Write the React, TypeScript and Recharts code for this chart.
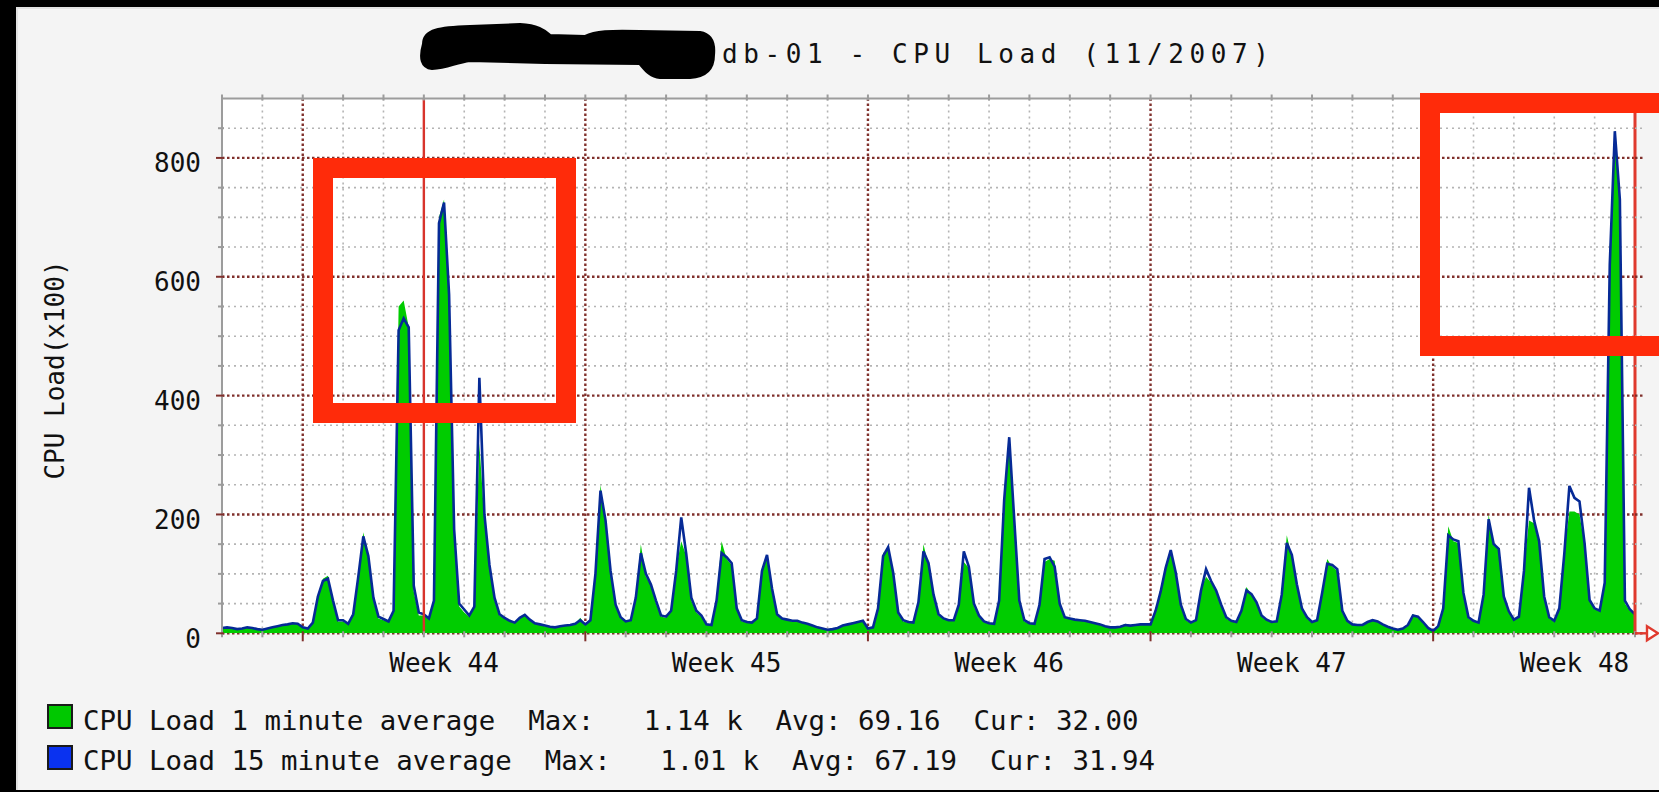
import { ComposedChart, Area, Line, XAxis, YAxis, CartesianGrid, ReferenceLine } from 'recharts'

const W = 1659
const H = 792
// plot box of the rrdtool picture (px)
const PLOT = { left: 222, top: 98.5, right: 1635, bottom: 633.3 }

const GREEN = '#00cc00'
const BLUE_LINE = '#062a96'
const MAJOR = '#80302c'
const MINOR = '#b4b4b4'
const AXIS = '#9c9c9c'
const RED = '#ff2b0a'
const FONT = '"DejaVu Sans Mono", "Liberation Mono", monospace'

// x is days since Sat 27 Oct 2007 00:00, one sample every 3 hours
const STEP_DAYS = 0.125

// CPU load x100, 1 minute average (green area)
const load1 = [
  8, 10, 8, 6, 8, 10, 8, 6, // Oct 27
  6, 8, 10, 12, 14, 15, 18, 15,
  10, 8, 20, 65, 92, 97, 50, 20, // Oct 29
  20, 15, 35, 100, 170, 125, 55, 25,
  22, 20, 40, 550, 560, 515, 70, 30,
  30, 25, 60, 700, 730, 560, 160, 45, // Nov 1
  35, 28, 45, 320, 190, 110, 55, 30,
  25, 20, 18, 28, 32, 22, 16, 14,
  12, 10, 10, 12, 13, 14, 16, 26,
  14, 25, 110, 250, 185, 100, 45, 25, // Nov 5
  20, 22, 65, 150, 95, 80, 50, 28,
  26, 40, 110, 155, 130, 55, 35, 28,
  14, 14, 60, 155, 125, 115, 40, 20,
  18, 18, 25, 110, 125, 70, 30, 24,
  22, 20, 22, 18, 16, 12, 10, 8,
  6, 8, 10, 14, 16, 18, 20, 22,
  8, 10, 45, 135, 140, 100, 32, 20, // Nov 12
  18, 18, 55, 150, 115, 60, 30, 24,
  22, 22, 50, 120, 110, 45, 28, 18,
  16, 16, 60, 230, 320, 180, 50, 20,
  16, 16, 50, 120, 125, 122, 48, 26,
  24, 22, 22, 20, 18, 16, 14, 12,
  10, 10, 12, 16, 12, 14, 16, 15,
  15, 40, 75, 115, 135, 100, 45, 22, // Nov 19
  17, 22, 75, 95, 85, 70, 45, 25,
  20, 18, 40, 78, 65, 50, 28, 22,
  18, 20, 70, 165, 128, 80, 40, 25,
  18, 22, 70, 125, 112, 105, 35, 20,
  15, 14, 14, 20, 23, 20, 14, 10,
  8, 6, 8, 15, 32, 28, 18, 8,
  4, 12, 45, 180, 155, 152, 65, 25, // Nov 26
  20, 18, 70, 200, 148, 140, 60, 35,
  22, 30, 110, 190, 185, 150, 60, 25,
  20, 45, 140, 205, 205, 200, 150, 55,
  40, 38, 90, 650, 830, 720, 50, 38,
  32,
]

// CPU load x100, 15 minute average (blue line)
const load15 = [
  9, 10, 9, 7, 8, 10, 9, 7,
  6, 8, 10, 12, 14, 15, 17, 16,
  10, 8, 18, 62, 88, 92, 55, 22,
  22, 16, 32, 95, 163, 130, 60, 28,
  24, 20, 38, 510, 530, 515, 80, 35,
  32, 25, 55, 690, 725, 570, 175, 50,
  40, 30, 45, 430, 200, 115, 60, 32,
  26, 21, 18, 26, 31, 23, 17, 15,
  13, 11, 10, 12, 13, 14, 16, 22,
  15, 22, 100, 240, 190, 105, 48, 27,
  20, 22, 60, 135, 100, 82, 55, 30,
  28, 38, 105, 195, 133, 60, 38, 30,
  15, 14, 55, 135, 128, 118, 42, 22,
  19, 18, 25, 105, 132, 75, 32, 25,
  23, 21, 21, 18, 16, 13, 10, 8,
  6, 7, 9, 13, 15, 17, 19, 21,
  8, 10, 42, 130, 145, 102, 35, 22,
  19, 18, 52, 138, 118, 65, 32, 25,
  22, 22, 48, 138, 112, 50, 30, 20,
  17, 16, 55, 225, 330, 190, 55, 22,
  17, 16, 48, 125, 128, 112, 50, 27,
  25, 23, 22, 21, 19, 17, 15, 12,
  10, 10, 11, 14, 13, 14, 15, 15,
  15, 38, 70, 110, 140, 102, 48, 24,
  18, 22, 72, 108, 88, 72, 48, 27,
  21, 19, 38, 72, 66, 52, 30, 23,
  19, 20, 65, 152, 132, 82, 42, 27,
  19, 22, 68, 117, 115, 108, 38, 21,
  15, 14, 14, 19, 22, 20, 15, 11,
  8, 6, 8, 14, 30, 28, 19, 9,
  4, 12, 42, 165, 158, 155, 68, 27,
  21, 18, 65, 192, 150, 142, 62, 37,
  23, 28, 105, 245, 190, 155, 62, 27,
  21, 42, 135, 248, 228, 222, 152, 56,
  42, 38, 85, 620, 845, 730, 55, 40,
  32,
]

const weekStart = [2, 9, 16, 23, 30]
const weekMid = [5.5, 12.5, 19.5, 26.5, 33.5]
const weekLabels = ['Week 44', 'Week 45', 'Week 46', 'Week 47', 'Week 48']
const monthStart = 5 // 1 Nov
const endMark = 35
const xDomain = [0, 35]
const dayTicks = Array.from({ length: 36 }, (_, i) => i)

const yDomain = [0, 900]
const yMajor = [0, 200, 400, 600, 800]
const yMinor = [50, 100, 150, 250, 300, 350, 450, 500, 550, 650, 700, 750, 850]

const legendNames = ['CPU Load 1 minute average', 'CPU Load 15 minute average']
const legendMax = ['1.14 k', '1.01 k']
const legendAvg = ['69.16', '67.19']
const legendCur = ['32.00', '31.94']
const legendColors = ['#00c800', '#0a32f0']

const data = load1.map((v, i) => ({ t: i * STEP_DAYS, load1: v, load15: load15[i] }))

function toPx(axis: any, v: number, fallback: number) {
  const s = axis?.scale
  if (typeof s === 'function') return s(v)
  if (s && typeof s.map === 'function') return s.map(v)
  return fallback
}
const yFallback = (v: number) => PLOT.bottom - (v / yDomain[1]) * (PLOT.bottom - PLOT.top)
const xFallback = (v: number) => PLOT.left + (v / xDomain[1]) * (PLOT.right - PLOT.left)

const LeftTick = ({ x, y, payload }: any) => {
  const v = payload.value
  const major = yMajor.includes(v)
  return (
    <g>
      <line x1={x - (major ? 6 : 4)} x2={x + 2} y1={y} y2={y}
        stroke={major ? MAJOR : AXIS} strokeWidth={2} />
      {major && (
        <text x={x - 21} y={y + 5} dy="0.36em" textAnchor="end"
          fontFamily={FONT} fontSize={26} fill="#111">{v}</text>
      )}
    </g>
  )
}

const RightTick = ({ x, y, payload }: any) => {
  const major = yMajor.includes(payload.value)
  return (
    <line x1={x} x2={x + 8} y1={y} y2={y} stroke={major ? MAJOR : MINOR}
      strokeWidth={major ? 2.4 : 1.6} strokeDasharray={major ? '2.5 2.5' : '2 3'} />
  )
}

const BottomTick = ({ x, y, payload }: any) => {
  const v = payload.value
  const wi = weekMid.indexOf(v)
  if (wi >= 0) {
    return (
      <text x={x} y={y + 38.7} textAnchor="middle" fontFamily={FONT} fontSize={26} fill="#111">
        {weekLabels[wi]}
      </text>
    )
  }
  const major = weekStart.includes(v)
  return <line x1={x} x2={x} y1={y - 2} y2={y + (major ? 8 : 4)} stroke={major ? MAJOR : AXIS} strokeWidth={2} />
}

const TopTick = ({ x, y }: any) => (
  <line x1={x} x2={x} y1={y - 4} y2={y + 2} stroke={AXIS} strokeWidth={2} />
)

export default function App() {
  const minorDays = dayTicks.filter(d => d > 0 && d < 35 && !weekStart.includes(d))
  return (
    <div style={{ position: 'absolute', left: 0, top: 0, width: W, height: H, background: '#000', overflow: 'hidden' }}>
      <div style={{ position: 'absolute', left: 16, top: 7, width: W - 16, height: 783, background: '#f4f4f4', borderTop: '2px solid #e2e2e2', borderLeft: '2px solid #e2e2e2', boxSizing: 'border-box' }} />

      <div style={{ position: 'absolute', left: 0, top: 0 }}>
        <ComposedChart width={W} height={H} data={data}
          margin={{ top: PLOT.top - 20, right: 0, bottom: H - PLOT.bottom - 40, left: 0 }}>
          <CartesianGrid xAxisId="x" yAxisId="y" fill="#fff" stroke={MINOR} strokeWidth={1.6} strokeDasharray="2 4"
            horizontalCoordinatesGenerator={({ yAxis }: any) => yMinor.map(v => toPx(yAxis, v, yFallback(v)))}
            verticalCoordinatesGenerator={({ xAxis }: any) => minorDays.map(d => toPx(xAxis, d, xFallback(d)))} />
          <CartesianGrid xAxisId="x" yAxisId="y" fill="none" stroke={MAJOR} strokeWidth={2.4} strokeDasharray="2.5 2.5"
            horizontalCoordinatesGenerator={({ yAxis }: any) => yMajor.map(v => toPx(yAxis, v, yFallback(v)))}
            verticalCoordinatesGenerator={({ xAxis }: any) => weekStart.map(d => toPx(xAxis, d, xFallback(d)))} />

          <XAxis xAxisId="x" dataKey="t" type="number" domain={xDomain} allowDataOverflow
            ticks={[...dayTicks, ...weekMid]} interval={0} height={40}
            axisLine={false} tickLine={false} tickSize={0} tickMargin={0} tick={<BottomTick />} />
          <XAxis xAxisId="top" dataKey="t" orientation="top" type="number" domain={xDomain} allowDataOverflow
            ticks={dayTicks} interval={0} height={20}
            axisLine={{ stroke: AXIS, strokeWidth: 2 }} tickLine={false} tickSize={0} tickMargin={0} tick={<TopTick />} />
          <YAxis yAxisId="y" type="number" domain={yDomain} allowDataOverflow
            ticks={[...yMajor, ...yMinor]} interval={0} width={222}
            axisLine={{ stroke: AXIS, strokeWidth: 2 }} tickLine={false} tickSize={0} tickMargin={0} tick={<LeftTick />} />
          <YAxis yAxisId="r" orientation="right" type="number" domain={yDomain} allowDataOverflow
            ticks={[...yMajor, ...yMinor]} interval={0} width={24}
            axisLine={false} tickLine={false} tickSize={0} tickMargin={0} tick={<RightTick />} />

          <Area xAxisId="x" yAxisId="y" dataKey="load1" type="linear" fill={GREEN} fillOpacity={1}
            stroke="none" isAnimationActive={false} />
          <Line xAxisId="x" yAxisId="y" dataKey="load15" type="linear" stroke={BLUE_LINE} strokeWidth={2.6}
            dot={false} isAnimationActive={false} />

          <ReferenceLine xAxisId="x" yAxisId="y" x={monthStart} stroke="#d8342c" strokeWidth={2.4} />
          <ReferenceLine xAxisId="x" yAxisId="y" x={endMark} stroke="#e03a2e" strokeWidth={3} />
        </ComposedChart>
      </div>

      <svg width={W} height={H} style={{ position: 'absolute', left: 0, top: 0, pointerEvents: 'none' }}>
        {/* redacted host name */}
        <path d="M 424 44 C 424 30, 440 28, 470 27 L 520 25 C 540 26, 545 32, 550 36 L 585 37 C 595 32, 610 31, 640 32 L 700 33 C 712 35, 714 45, 713 55 C 713 70, 705 76, 690 77 L 660 77 C 650 76, 646 70, 640 63 L 545 62 L 470 60 C 455 62, 448 67, 432 68 C 422 67, 420 58, 424 44 Z"
          fill="#000" stroke="#000" strokeWidth={4} strokeLinejoin="round" />
        <text x={722} y={63.3} fontFamily={FONT} fontSize={26} letterSpacing={5.6} fill="#111">
          db-01 - CPU Load (11/2007)
        </text>

        <text transform="translate(55,370) rotate(-90)" textAnchor="middle" dominantBaseline="central"
          fontFamily={FONT} fontSize={26} fill="#111">CPU Load(x100)</text>

        {/* x axis arrow */}
        <line x1={PLOT.right} x2={1650} y1={PLOT.bottom} y2={PLOT.bottom} stroke="#e03a2e" strokeWidth={2.4} />
        <polygon points={`1647,${PLOT.bottom - 7} 1658,${PLOT.bottom} 1647,${PLOT.bottom + 7}`}
          fill="#fff" stroke="#e03a2e" strokeWidth={2.4} />

        {legendNames.map((name, i) => (
          <g key={name}>
            <rect x={48} y={705 + i * 41} width={24} height={23} fill={legendColors[i]} stroke="#1a1a1a" strokeWidth={2} />
            <text x={83} y={730 + i * 40} fontFamily={FONT} fontSize={27.4} fill="#111" style={{ whiteSpace: 'pre' }}>
              {`${name}  Max:   ${legendMax[i]}  Avg: ${legendAvg[i]}  Cur: ${legendCur[i]}`}
            </text>
          </g>
        ))}
      </svg>

      {/* red annotation boxes */}
      <div style={{ position: 'absolute', left: 313, top: 158, width: 263, height: 265, border: `20px solid ${RED}`, boxSizing: 'border-box' }} />
      <div style={{ position: 'absolute', left: 1420, top: 93, width: 300, height: 263, border: `20px solid ${RED}`, boxSizing: 'border-box' }} />
    </div>
  )
}
